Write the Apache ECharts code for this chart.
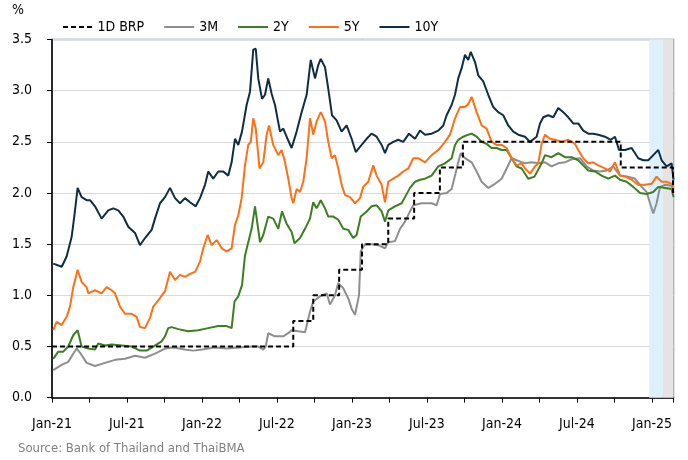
<!doctype html>
<html>
<head>
<meta charset="utf-8">
<script src="https://cdn.jsdelivr.net/npm/echarts@6/dist/echarts.min.js"></script>
<style>
  html, body { margin: 0; padding: 0; background: #fff; }
  #chart { width: 688px; height: 460px; }
</style>
</head>
<body>
<div id="chart"></div>
<script>
// x = months since Jan 2021 (0 = Jan-21), values in %
var brp = [[0,0.5],[19.3,0.75],[20.9,1.0],[22.97,1.25],[24.8,1.5],[26.9,1.75],[28.97,2.0],
  [31.03,2.25],[32.87,2.5],[45.5,2.25],[49.68,2.0],[49.72,2.0]];

var m3 = [[0.1,0.27],[0.77,0.32],[1.3,0.35],[1.7,0.43],[1.97,0.48],[2.3,0.43],[2.77,0.34],[3.44,0.31],
  [4.24,0.34],[5.04,0.37],[5.84,0.38],[6.64,0.41],[7.44,0.39],[8.24,0.43],[9.04,0.48],[9.8,0.49],
  [10.6,0.47],[11.3,0.46],[12.0,0.47],[13.0,0.49],[14.0,0.48],[15.0,0.49],[16.0,0.5],[16.5,0.5],
  [16.9,0.47],[17.1,0.5],[17.3,0.63],[17.84,0.6],[18.5,0.6],[18.9,0.63],[19.17,0.66],[19.7,0.65],
  [20.24,0.64],[20.64,0.84],[20.9,0.94],[21.44,0.99],[21.97,1.02],[22.24,0.91],[22.64,1.0],[22.9,1.12],
  [23.3,1.07],[23.7,0.97],[23.97,0.87],[24.24,0.81],[24.56,1.0],[24.7,1.43],[25.04,1.5],[25.57,1.5],
  [26.1,1.49],[26.64,1.46],[26.9,1.52],[27.44,1.53],[27.84,1.65],[28.24,1.72],[28.64,1.82],[28.9,1.88],
  [29.57,1.9],[30.37,1.9],[30.77,1.88],[31.04,1.99],[31.57,2.0],[31.97,2.04],[32.24,2.17],[32.5,2.3],
  [32.7,2.39],[33.04,2.34],[33.57,2.3],[33.97,2.21],[34.37,2.11],[34.9,2.05],[35.44,2.09],[35.97,2.14],
  [36.37,2.24],[36.77,2.34],[37.17,2.32],[37.84,2.29],[38.37,2.3],[38.9,2.29],[39.44,2.3],[39.97,2.26],
  [40.5,2.29],[41.04,2.3],[41.57,2.33],[42.24,2.34],[42.77,2.26],[43.3,2.22],[43.84,2.21],[44.37,2.22],
  [44.9,2.26],[45.44,2.17],[46.1,2.16],[46.64,2.14],[47.17,2.06],[47.57,2.01],[47.84,1.9],[48.1,1.8],
  [48.37,1.9],[48.64,2.06],[49.04,2.08],[49.57,2.07],[49.72,2.03]];

var y2 = [[0.1,0.38],[0.5,0.45],[0.9,0.45],[1.3,0.5],[1.7,0.61],[2.05,0.66],[2.37,0.5],[2.9,0.48],
  [3.44,0.47],[3.7,0.53],[4.24,0.51],[4.77,0.52],[5.57,0.51],[6.37,0.5],[7.04,0.46],[7.57,0.46],
  [8.1,0.5],[8.77,0.55],[9.04,0.6],[9.3,0.68],[9.57,0.69],[10.1,0.67],[10.9,0.65],[11.7,0.66],
  [12.5,0.68],[13.3,0.7],[13.97,0.7],[14.37,0.68],[14.6,0.94],[14.9,0.99],[15.2,1.1],[15.44,1.39],
  [15.7,1.52],[15.97,1.65],[16.24,1.87],[16.64,1.52],[16.9,1.59],[17.3,1.77],[17.7,1.75],[18.1,1.65],
  [18.4,1.82],[18.77,1.7],[19.17,1.62],[19.4,1.51],[19.84,1.56],[20.24,1.65],[20.64,1.75],[20.9,1.91],
  [21.17,1.85],[21.5,1.93],[21.84,1.85],[22.1,1.77],[22.5,1.77],[22.9,1.74],[23.3,1.65],[23.7,1.64],
  [24.1,1.56],[24.37,1.59],[24.7,1.77],[25.17,1.82],[25.57,1.87],[25.97,1.88],[26.37,1.82],[26.64,1.72],
  [26.9,1.83],[27.44,1.87],[27.97,1.9],[28.24,1.96],[28.64,2.05],[29.04,2.11],[29.44,2.13],[29.84,2.14],
  [30.37,2.17],[30.9,2.26],[31.44,2.29],[31.97,2.34],[32.24,2.47],[32.5,2.52],[32.9,2.55],[33.3,2.57],
  [33.57,2.58],[33.97,2.55],[34.37,2.5],[34.77,2.48],[35.17,2.44],[35.57,2.44],[35.97,2.42],[36.37,2.42],
  [36.77,2.34],[37.17,2.26],[37.57,2.24],[38.1,2.14],[38.6,2.16],[39.17,2.29],[39.44,2.37],[39.97,2.35],
  [40.5,2.39],[41.04,2.35],[41.57,2.35],[42.1,2.32],[42.5,2.27],[42.9,2.22],[43.44,2.21],[43.97,2.17],
  [44.5,2.14],[45.04,2.17],[45.44,2.13],[45.97,2.11],[46.5,2.06],[47.04,2.0],[47.57,1.99],[48.1,2.01],
  [48.5,2.06],[49.04,2.05],[49.57,2.04],[49.72,1.96]];

var y5 = [[0.1,0.66],[0.37,0.74],[0.77,0.71],[1.17,0.79],[1.44,0.89],[1.7,1.08],[2.05,1.25],[2.37,1.13],
  [2.77,1.08],[2.9,1.02],[3.44,1.05],[3.97,1.02],[4.37,1.08],[4.77,1.05],[5.04,1.02],[5.44,0.89],
  [5.84,0.82],[6.37,0.82],[6.77,0.79],[7.04,0.69],[7.44,0.68],[7.84,0.78],[8.1,0.89],[8.5,0.95],
  [8.9,1.02],[9.04,1.04],[9.44,1.23],[9.84,1.15],[10.24,1.2],[10.64,1.18],[11.04,1.21],[11.44,1.23],
  [11.84,1.33],[12.1,1.46],[12.45,1.59],[12.77,1.49],[13.17,1.54],[13.57,1.46],[13.97,1.43],[14.37,1.46],
  [14.64,1.69],[14.9,1.78],[15.17,1.95],[15.44,2.27],[15.7,2.47],[15.9,2.5],[16.1,2.73],[16.3,2.63],
  [16.6,2.24],[16.9,2.3],[17.17,2.57],[17.36,2.66],[17.7,2.47],[18.1,2.37],[18.37,2.42],[18.64,2.3],
  [18.9,2.14],[19.17,1.95],[19.3,1.9],[19.57,2.04],[19.84,2.01],[20.1,2.11],[20.37,2.34],[20.64,2.73],
  [20.9,2.57],[21.17,2.7],[21.5,2.79],[21.84,2.7],[22.1,2.5],[22.37,2.34],[22.64,2.37],[22.9,2.24],
  [23.17,2.08],[23.44,1.98],[23.84,1.96],[24.24,1.9],[24.64,1.95],[24.9,2.06],[25.3,2.11],[25.7,2.27],
  [25.97,2.17],[26.37,2.08],[26.64,1.91],[26.9,2.11],[27.3,2.14],[27.7,2.17],[28.1,2.21],[28.5,2.24],
  [28.9,2.34],[29.3,2.34],[29.84,2.3],[30.37,2.37],[30.9,2.42],[31.44,2.5],[31.84,2.57],[32.24,2.73],
  [32.64,2.84],[33.04,2.84],[33.3,2.87],[33.57,2.94],[33.97,2.79],[34.37,2.66],[34.77,2.63],[35.17,2.5],
  [35.57,2.47],[35.97,2.47],[36.37,2.44],[36.77,2.34],[37.17,2.27],[37.57,2.29],[37.84,2.24],[38.24,2.19],
  [38.64,2.26],[38.9,2.29],[39.17,2.48],[39.44,2.57],[39.84,2.53],[40.24,2.52],[40.77,2.5],[41.3,2.52],
  [41.84,2.48],[42.1,2.42],[42.5,2.34],[42.9,2.29],[43.3,2.3],[43.7,2.27],[44.24,2.24],[44.64,2.21],
  [45.04,2.3],[45.44,2.17],[45.84,2.16],[46.37,2.13],[46.9,2.08],[47.44,2.08],[47.97,2.09],[48.37,2.16],
  [48.77,2.11],[49.17,2.11],[49.57,2.09],[49.72,2.0]];

var y10 = [[0.1,1.31],[0.78,1.28],[1.17,1.38],[1.57,1.57],[1.79,1.78],[2.05,2.05],[2.37,1.96],[2.77,1.93],
  [3.04,1.93],[3.44,1.87],[3.97,1.75],[4.5,1.83],[4.9,1.85],[5.3,1.83],[5.7,1.77],[6.1,1.67],
  [6.64,1.61],[7.04,1.49],[7.44,1.56],[7.97,1.64],[8.24,1.75],[8.64,1.9],[9.04,1.96],[9.44,2.05],
  [9.84,1.95],[10.24,1.9],[10.64,1.95],[11.04,1.91],[11.5,1.87],[11.84,1.95],[12.24,2.08],[12.5,2.21],
  [12.9,2.14],[13.3,2.21],[13.7,2.21],[14.1,2.17],[14.37,2.3],[14.64,2.53],[14.9,2.47],[15.2,2.6],
  [15.57,2.86],[15.84,2.99],[16.1,3.4],[16.3,3.41],[16.5,3.12],[16.8,2.92],[17.04,2.96],[17.3,3.12],
  [17.57,2.97],[17.84,2.86],[18.24,2.6],[18.5,2.63],[18.77,2.55],[19.17,2.44],[19.57,2.6],[19.97,2.79],
  [20.37,2.96],[20.7,3.3],[21.04,3.12],[21.3,3.25],[21.5,3.31],[21.84,3.23],[22.1,3.02],[22.4,2.76],
  [22.77,2.71],[23.17,2.6],[23.57,2.66],[23.97,2.53],[24.3,2.4],[24.77,2.47],[25.17,2.53],[25.57,2.58],
  [25.97,2.55],[26.37,2.47],[26.64,2.39],[26.9,2.47],[27.3,2.5],[27.7,2.52],[28.1,2.5],[28.56,2.58],
  [29.04,2.53],[29.44,2.61],[29.84,2.57],[30.37,2.58],[30.9,2.61],[31.3,2.66],[31.57,2.76],[31.97,2.86],
  [32.24,2.96],[32.5,3.12],[32.77,3.22],[33.04,3.35],[33.3,3.3],[33.5,3.38],[33.84,3.28],[34.1,3.15],
  [34.5,3.09],[34.9,2.96],[35.3,2.84],[35.7,2.79],[36.1,2.76],[36.5,2.66],[36.9,2.6],[37.3,2.57],
  [37.84,2.55],[38.24,2.5],[38.77,2.55],[39.04,2.68],[39.3,2.74],[39.7,2.76],[40.1,2.74],[40.5,2.83],
  [40.9,2.79],[41.3,2.74],[41.7,2.68],[42.1,2.68],[42.5,2.61],[42.9,2.58],[43.3,2.58],[43.7,2.57],
  [44.24,2.55],[44.7,2.52],[45.04,2.55],[45.36,2.42],[45.84,2.42],[46.37,2.44],[46.9,2.34],[47.3,2.32],
  [47.7,2.32],[48.1,2.37],[48.5,2.42],[48.77,2.32],[49.17,2.26],[49.57,2.29],[49.72,2.13]];

var monthNames = ['Jan', 'Jul'];
var xMax = 49.72;
// shaded periods (months)
var blueBand = [47.78, 48.86];
var grayBand = [48.86, 49.72];

var font = "'Liberation Sans Narrow', 'DejaVu Sans Condensed', sans-serif";
var lineIcon = 'path://M0,0h30v2h-30z';
var dashIcon = 'path://M0,0h5v2h-5z M8,0h5v2h-5z M16,0h5v2h-5z M24,0h5v2h-5z';

var chart = echarts.init(document.getElementById('chart'));

function line(name, data, color) {
  return {
    name: name, type: 'line', data: data, symbol: 'none', animation: false,
    lineStyle: { color: color, width: 2 }, itemStyle: { color: color }
  };
}

var s10 = line('10Y', y10, '#0f2e43');
var s5 = line('5Y', y5, '#ff7014');
var s2 = line('2Y', y2, '#3c7f20');
var s3 = line('3M', m3, '#8e8e8e');
var sB = {
  name: '1D BRP', type: 'line', data: brp, step: 'end', symbol: 'none', animation: false,
  lineStyle: { color: '#000', width: 2, type: [5, 3] }, itemStyle: { color: '#000' }
};
s3.markArea = {
  silent: true,
  data: [
    [{ xAxis: blueBand[0], itemStyle: { color: '#dcf1fb' } }, { xAxis: blueBand[1] }],
    [{ xAxis: grayBand[0], itemStyle: { color: '#e4e4e4' } }, { xAxis: grayBand[1] }]
  ]
};

chart.setOption({
  backgroundColor: '#fff',
  animation: false,
  textStyle: { fontFamily: font },
  graphic: [
    { type: 'text', left: 12, top: 3, style: { text: '%', fontSize: 14, fontFamily: font, fill: '#000' } },
    { type: 'text', left: 18, top: 442, style: { text: 'Source: Bank of Thailand and ThaiBMA', fontSize: 13, fontFamily: font, fill: '#7f7f7f' } }
  ],
  legend: {
    left: 58, top: 15, itemWidth: 30, itemHeight: 2, itemGap: 20,
    textStyle: { fontSize: 14, fontFamily: font, color: '#000' },
    data: [
      { name: '1D BRP', icon: dashIcon, itemStyle: { color: '#000' } },
      { name: '3M', icon: lineIcon },
      { name: '2Y', icon: lineIcon },
      { name: '5Y', icon: lineIcon },
      { name: '10Y', icon: lineIcon }
    ]
  },
  grid: {
    left: 52, right: 14.5, top: 39.5, bottom: 62.3,
    show: true, borderColor: '#7c8992', borderWidth: 1.5
  },
  xAxis: {
    type: 'value', min: 0, max: xMax, interval: 3,
    axisLine: { show: true, lineStyle: { color: '#000', width: 1.5 } },
    axisTick: { show: true, length: 5, lineStyle: { color: '#000' } },
    splitLine: { show: false },
    axisLabel: {
      fontSize: 14, color: '#000', margin: 20, fontFamily: font,
      formatter: function (v) {
        if (Math.abs(v % 6) > 0.01) return '';
        var yr = 21 + Math.floor(v / 12);
        return monthNames[(v % 12) / 6] + '-' + yr;
      }
    }
  },
  yAxis: {
    type: 'value', min: 0, max: 3.5, interval: 0.5,
    axisLine: { show: true, lineStyle: { color: '#000', width: 1.5 } },
    axisTick: { show: true, length: 5, lineStyle: { color: '#000' } },
    splitLine: { lineStyle: { color: '#d9d9d9', width: 1 } },
    axisLabel: {
      fontSize: 14, color: '#000', margin: 20, fontFamily: font,
      formatter: function (v) { return v.toFixed(1); }
    }
  },
  series: [s3, s2, s5, s10, sB]
});
</script>
</body>
</html>
